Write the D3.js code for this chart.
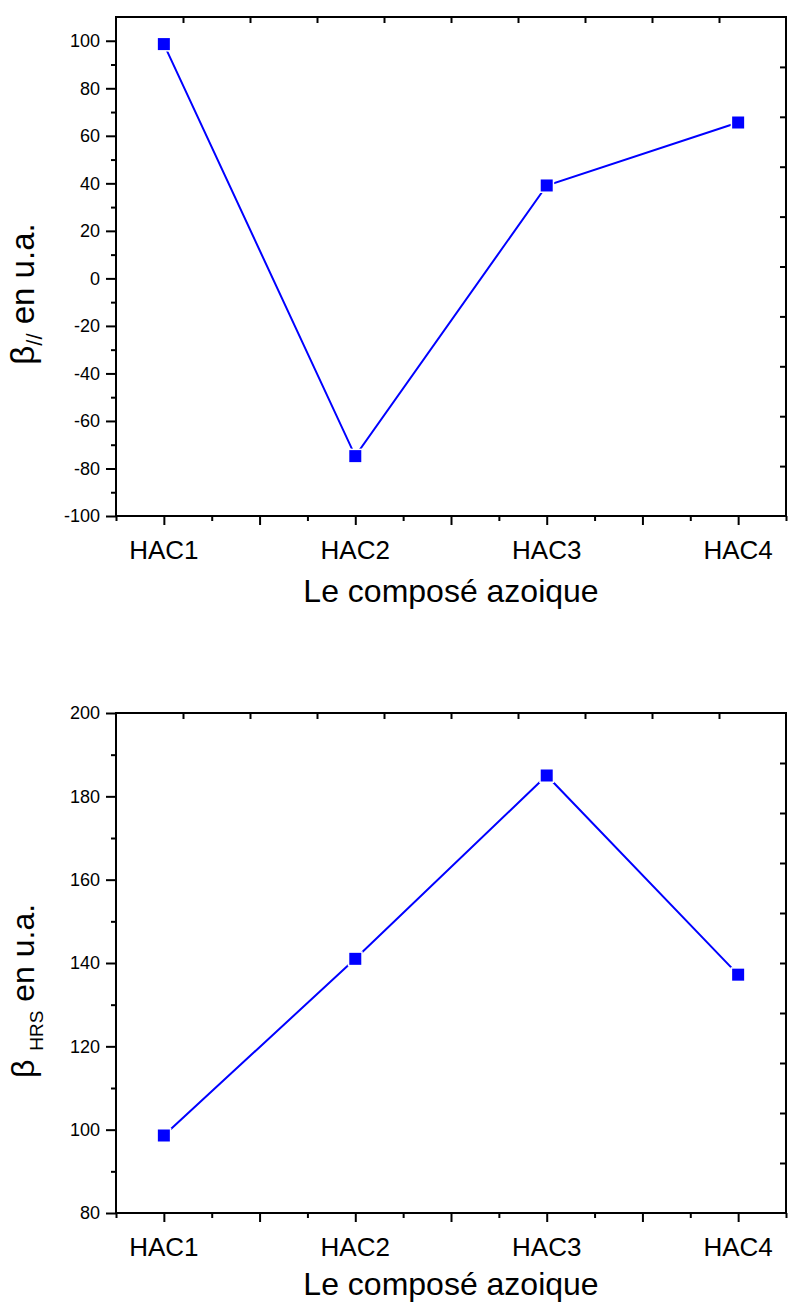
<!DOCTYPE html>
<html>
<head>
<meta charset="utf-8">
<script src="https://cdn.jsdelivr.net/npm/d3@7"></script>
<style>
  body { margin: 0; background: #fff; }
  text { font-family: Arial, "Liberation Sans", sans-serif; fill: #000; }
</style>
</head>
<body>
<div class="canvas"></div>
<script>
// data
const categories = ['HAC1', 'HAC2', 'HAC3', 'HAC4'];
const betaPar = [98.6, -74.8, 39.1, 65.6];
const betaHrs = [98.6, 141, 185, 137.2];
const parTicks = [-100, -80, -60, -40, -20, 0, 20, 40, 60, 80, 100];
const hrsTicks = [80, 100, 120, 140, 160, 180, 200];

// page dimensions
const width = 804;
const height = 1303;
const plotLeft = 116;
const plotRight = 786;

const svg = d3.select('.canvas')
  .append('svg')
  .attr('width', width)
  .attr('height', height);

// x scale shared by both panels (categories sit at 1..4)
const x = d3.scaleLinear().domain([0.75, 4.25]).range([plotLeft, plotRight]);

const drawPanel = (p) => {
  const g = svg.append('g');
  const y = d3.scaleLinear().domain(p.yDomain).range([p.bottom, p.top]);

  // bottom axis: major ticks every 0.5, minor every 0.25
  const xMajor = d3.range(1, 4.01, 0.5);
  const xMinor = d3.range(0.75, 4.26, 0.25).filter(v => !xMajor.includes(v));
  g.append('g')
    .attr('transform', `translate(0, ${p.bottom})`)
    .call(d3.axisBottom(x).tickValues(xMinor).tickSize(5).tickFormat(''))
    .call(a => a.select('.domain').remove());
  g.append('g')
    .attr('transform', `translate(0, ${p.bottom})`)
    .call(d3.axisBottom(x).tickValues(xMajor).tickSize(9).tickFormat(''))
    .call(a => a.select('.domain').remove());

  // left axis: labelled majors, minors halfway
  const yMinor = p.yTicks.slice(1).map((v, i) => (v + p.yTicks[i]) / 2);
  g.append('g')
    .attr('transform', `translate(${plotLeft}, 0)`)
    .call(d3.axisLeft(y).tickValues(yMinor).tickSize(5).tickFormat(''))
    .call(a => a.select('.domain').remove());
  g.append('g')
    .attr('class', 'y-axis')
    .attr('transform', `translate(${plotLeft}, 0)`)
    .call(d3.axisLeft(y).tickValues(p.yTicks).tickSize(10).tickPadding(6).tickFormat(d => String(d)))
    .call(a => a.select('.domain').remove())
    .call(a => a.selectAll('text').attr('font-size', 18).style('font-family', 'Arial, "Liberation Sans", sans-serif'));

  // top and right axes have their own ten equal divisions, ticks inward
  const top = d3.scaleLinear().domain([0, 10]).range([plotLeft, plotRight]);
  const right = d3.scaleLinear().domain([0, 10]).range([p.bottom, p.top]);
  g.append('g')
    .attr('transform', `translate(0, ${p.top})`)
    .call(d3.axisTop(top).tickValues(d3.range(1, 10)).tickSize(-6).tickFormat(''))
    .call(a => a.select('.domain').remove());
  g.append('g')
    .attr('transform', `translate(${plotRight}, 0)`)
    .call(d3.axisRight(right).tickValues(d3.range(1, 10)).tickSize(-6).tickFormat(''))
    .call(a => a.select('.domain').remove());

  g.selectAll('.tick line').attr('stroke', '#000').attr('stroke-width', 2);

  // frame
  g.append('rect')
    .attr('x', plotLeft)
    .attr('y', p.top)
    .attr('width', plotRight - plotLeft)
    .attr('height', p.bottom - p.top)
    .attr('fill', 'none')
    .attr('stroke', '#000')
    .attr('stroke-width', 2);

  // category labels
  g.selectAll('.cat')
    .data(categories)
    .enter()
    .append('text')
    .attr('class', 'cat')
    .attr('x', (d, i) => x(i + 1))
    .attr('y', p.bottom + 43)
    .attr('text-anchor', 'middle')
    .attr('font-size', 26)
    .text(d => d);

  // x title
  g.append('text')
    .attr('x', (plotLeft + plotRight) / 2)
    .attr('y', p.bottom + p.xTitleOffset)
    .attr('text-anchor', 'middle')
    .attr('font-size', 32)
    .text('Le composé azoique');

  // line + markers
  const line = d3.line()
    .x((d, i) => x(i + 1))
    .y(d => y(d));
  g.append('path')
    .datum(p.values)
    .attr('fill', 'none')
    .attr('stroke', '#0000ff')
    .attr('stroke-width', 2)
    .attr('d', line);

  const marks = g.selectAll('.mark')
    .data(p.values)
    .enter()
    .append('g')
    .attr('class', 'mark')
    .attr('transform', (d, i) => `translate(${x(i + 1)}, ${y(d)})`);
  marks.append('rect')
    .attr('x', -7.5).attr('y', -7.5).attr('width', 15).attr('height', 15)
    .attr('fill', '#fff');
  marks.append('rect')
    .attr('x', -6).attr('y', -6).attr('width', 12).attr('height', 12)
    .attr('fill', '#0000ff');

  return g;
};

// top panel: beta parallel
const topPanel = drawPanel({
  top: 17, bottom: 516,
  yDomain: [-100, 110],
  yTicks: parTicks,
  values: betaPar,
  xTitleOffset: 86
});
const t1 = topPanel.append('text')
  .attr('transform', 'translate(34, 294) rotate(-90)')
  .attr('text-anchor', 'middle')
  .attr('font-size', 33);
t1.append('tspan').text('β');
t1.append('tspan').attr('font-size', 22).attr('dy', 8).text('//');
t1.append('tspan').attr('dy', -8).text(' en u.a.');

// bottom panel: beta HRS
const bottomPanel = drawPanel({
  top: 713, bottom: 1213,
  yDomain: [80, 200],
  yTicks: hrsTicks,
  values: betaHrs,
  xTitleOffset: 82
});
const t2 = bottomPanel.append('text')
  .attr('transform', 'translate(34, 991) rotate(-90)')
  .attr('text-anchor', 'middle')
  .attr('font-size', 32);
t2.append('tspan').text('β ');
t2.append('tspan').attr('font-size', 19).attr('dy', 9).text('HRS');
t2.append('tspan').attr('dy', -9).text(' en u.a.');
</script>
</body>
</html>
